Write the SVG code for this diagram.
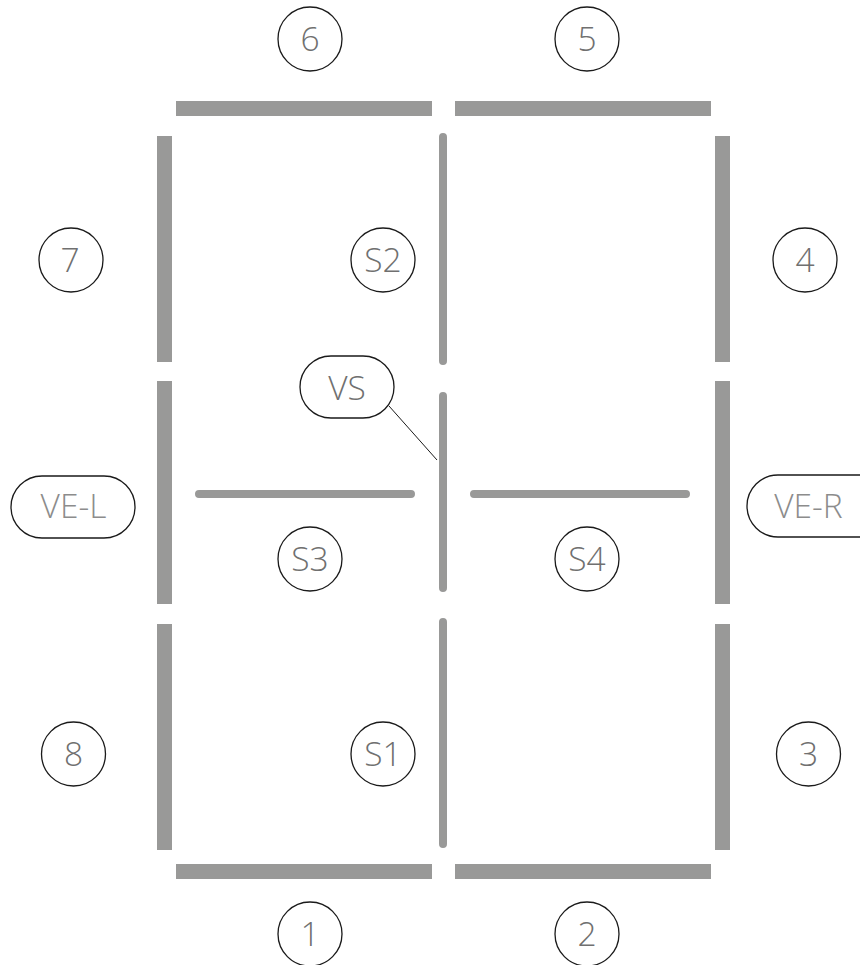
<svg xmlns="http://www.w3.org/2000/svg" width="860" height="965" viewBox="0 0 860 965">
<style>
.wall{fill:#999998}
.rail{stroke:#999998;stroke-width:8;stroke-linecap:round;fill:none}
.n{fill:#fff;stroke:#1a1a1a;stroke-width:1.3}
.t{font-family:"Open Sans","Noto Sans",sans-serif;font-size:33.5px;font-weight:300;fill:#707070;text-anchor:middle}
.lt{fill:#8c8c8c}
</style>
<rect width="860" height="965" fill="#fff"/>
<g id="walls">
<rect class="wall" x="176" y="101" width="256" height="15"/>
<rect class="wall" x="455" y="101" width="256" height="15"/>
<rect class="wall" x="176" y="864" width="256" height="15"/>
<rect class="wall" x="455" y="864" width="256" height="15"/>
<rect class="wall" x="157" y="136" width="15" height="226"/>
<rect class="wall" x="157" y="381" width="15" height="223"/>
<rect class="wall" x="157" y="624" width="15" height="226"/>
<rect class="wall" x="715" y="136" width="15" height="226"/>
<rect class="wall" x="715" y="381" width="15" height="223"/>
<rect class="wall" x="715" y="624" width="15" height="226"/>
</g>
<g id="connectors">
<path class="rail" d="M443 137V361M443 396V588M443 622V844M199 494H411M474 494H686"/>
<path d="M389 406L437 460" stroke="#1a1a1a" stroke-width="1" fill="none"/>
</g>
<g id="n6"><circle class="n" cx="310" cy="39" r="32"/><text class="t" x="310" y="51">6</text></g>
<g id="n5"><circle class="n" cx="587" cy="39" r="32"/><text class="t" x="587" y="51">5</text></g>
<g id="n7"><circle class="n" cx="71" cy="260" r="32"/><text class="t" x="70" y="272">7</text></g>
<g id="s2"><circle class="n" cx="383" cy="260" r="32"/><text class="t" x="383" y="272">S2</text></g>
<g id="n4"><circle class="n" cx="805" cy="260" r="32"/><text class="t" x="805" y="272">4</text></g>
<g id="vs"><rect class="n" x="300" y="356" width="94" height="62" rx="31"/><text class="t" x="347" y="400">VS</text></g>
<g id="ve-l"><rect class="n" x="11" y="476" width="124" height="62" rx="31"/><text class="t lt" x="73.500" y="518">VE-L</text></g>
<g id="ve-r"><rect class="n" x="747" y="475" width="144" height="62" rx="31"/><text class="t lt" x="808.500" y="518">VE-R</text></g>
<g id="s3"><circle class="n" cx="310" cy="559" r="32"/><text class="t" x="310" y="571">S3</text></g>
<g id="s4"><circle class="n" cx="587" cy="559" r="32"/><text class="t" x="587" y="571">S4</text></g>
<g id="n8"><circle class="n" cx="73.500" cy="754" r="32"/><text class="t" x="73.500" y="766">8</text></g>
<g id="s1"><circle class="n" cx="383" cy="754" r="32"/><text class="t" x="383" y="766">S1</text></g>
<g id="n3"><circle class="n" cx="808.500" cy="754" r="32"/><text class="t" x="808.500" y="766">3</text></g>
<g id="n1"><circle class="n" cx="310" cy="934" r="32"/><text class="t" x="310" y="946">1</text></g>
<g id="n2"><circle class="n" cx="587" cy="934" r="32"/><text class="t" x="587" y="946">2</text></g>
</svg>
